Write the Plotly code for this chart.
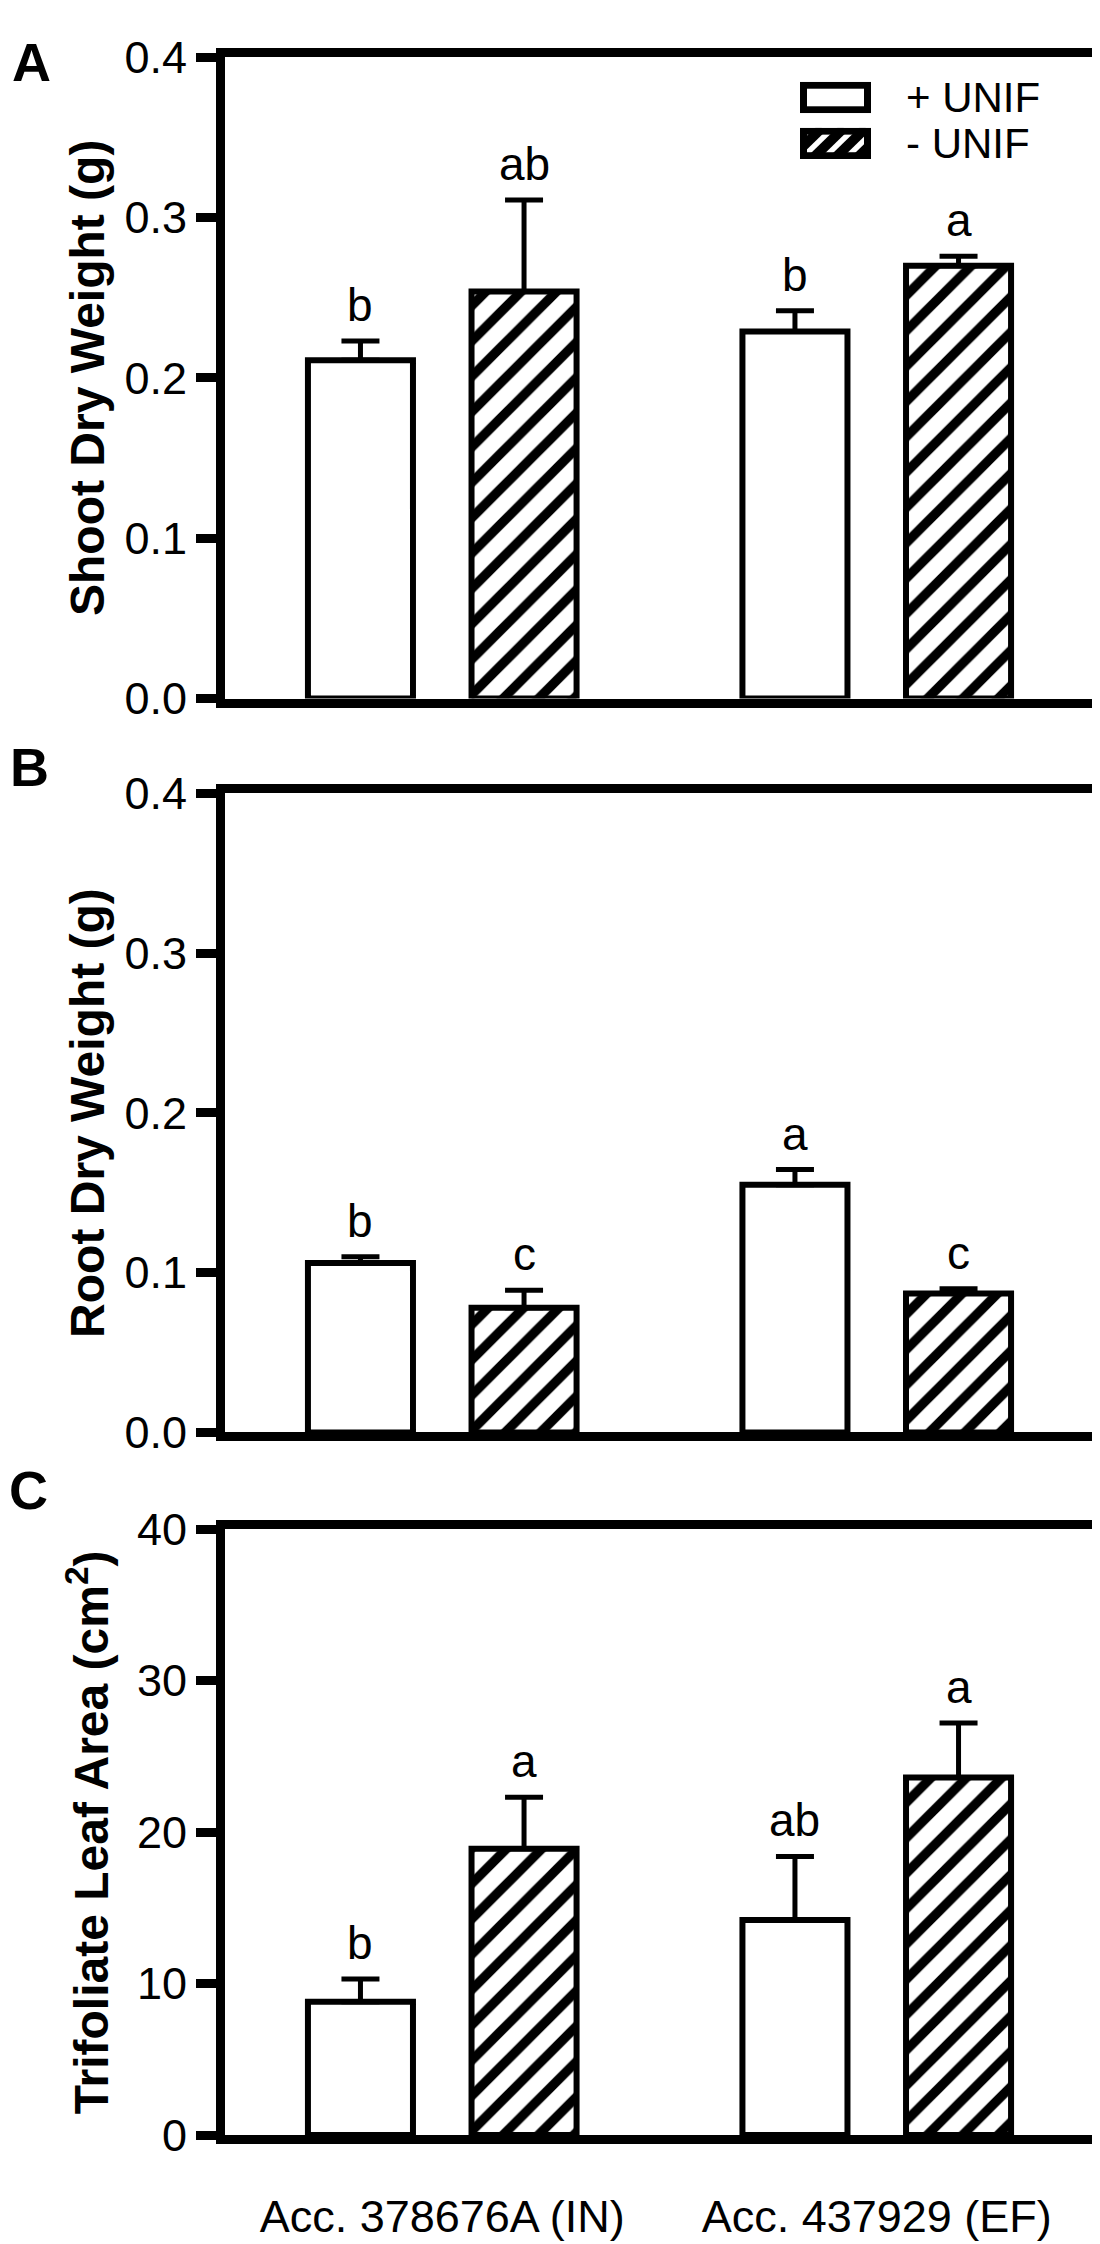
import base64
import plotly.graph_objects as go

# =========================
# DATA
# =========================

accessions = ["Acc. 378676A (IN)", "Acc. 437929 (EF)"]
treatments = ["+ UNIF", "- UNIF"]

shoot_plus = [0.211, 0.229]
shoot_plus_err = [0.012, 0.013]
shoot_minus = [0.254, 0.270]
shoot_minus_err = [0.057, 0.006]
shoot_plus_letters = ["b", "b"]
shoot_minus_letters = ["ab", "a"]

root_plus = [0.106, 0.155]
root_plus_err = [0.004, 0.0095]
root_minus = [0.078, 0.087]
root_minus_err = [0.011, 0.003]
root_plus_letters = ["b", "a"]
root_minus_letters = ["c", "c"]

leaf_plus = [8.8, 14.2]
leaf_plus_err = [1.5, 4.2]
leaf_minus = [18.9, 23.6]
leaf_minus_err = [3.4, 3.6]
leaf_plus_letters = ["b", "ab"]
leaf_minus_letters = ["a", "a"]

panel_titles = [
    "<b>Shoot Dry Weight (g)</b>",
    "<b>Root Dry Weight (g)</b>",
    "<b>Trifoliate Leaf Area (cm<sup>2</sup>)</b>",
]
panel_letters = ["A", "B", "C"]
y_ticks = [
    [0.0, 0.1, 0.2, 0.3, 0.4],
    [0.0, 0.1, 0.2, 0.3, 0.4],
    [0, 10, 20, 30, 40],
]

# =========================
# LAYOUT HELPERS (pixels)
# =========================

W, H = 1100, 2244
FONT = "Arial, Liberation Sans, sans-serif"
BARGAP = 0.247
GROUPGAP = 0.358
SLOT = (1 - BARGAP) / 2


def px(x):
    return x / W


def py(y):
    return 1 - y / H


x_dom = [px(217), px(1086)]
y_doms = [
    [py(681), py(25)],
    [py(1432), py(778)],
    [py(2151), py(1531)],
]
panel_letter_pos = [(23, 30), (21, 751), (20, 1491)]

panels = [
    (shoot_plus, shoot_plus_err, shoot_minus, shoot_minus_err,
     shoot_plus_letters, shoot_minus_letters),
    (root_plus, root_plus_err, root_minus, root_minus_err,
     root_plus_letters, root_minus_letters),
    (leaf_plus, leaf_plus_err, leaf_minus, leaf_minus_err,
     leaf_plus_letters, leaf_minus_letters),
]

fig = go.Figure()
annotations = []

# =========================
# BARS
# =========================

for k, (p, pe, m, me, pl, ml) in enumerate(panels):
    xa = "x" if k == 0 else f"x{k + 1}"
    ya = "y" if k == 0 else f"y{k + 1}"
    xs = list(range(len(accessions)))

    fig.add_trace(go.Bar(
        x=xs, y=p, name=treatments[0], xaxis=xa, yaxis=ya,
        marker=dict(color="white", line=dict(color="black", width=6)),
        error_y=dict(type="data", array=pe, arrayminus=[0] * len(pe),
                     symmetric=False, color="black", thickness=5, width=19),
        showlegend=False,
    ))
    fig.add_trace(go.Bar(
        x=xs, y=m, name=treatments[1], xaxis=xa, yaxis=ya,
        marker=dict(color="white", line=dict(color="black", width=6),
                    pattern=dict(shape="/", fgcolor="black", bgcolor="white",
                                 fgopacity=1, size=25, solidity=0.38)),
        error_y=dict(type="data", array=me, arrayminus=[0] * len(me),
                     symmetric=False, color="black", thickness=5, width=19),
        showlegend=False,
    ))

    # significance letters
    for i in xs:
        for j, (vals, errs, letters) in enumerate([(p, pe, pl), (m, me, ml)]):
            annotations.append(dict(
                x=i + (j - 0.5) * SLOT, y=vals[i] + errs[i],
                xref=xa, yref=ya, text=letters[i], showarrow=False,
                yanchor="bottom", yshift=8,
                font=dict(family=FONT, size=46, color="black"),
            ))

    # y title
    annotations.append(dict(
        x=px(80), y=0.5, xref="paper", yref=f"{ya} domain",
        text=panel_titles[k], textangle=-90, showarrow=False,
        xanchor="center", yanchor="middle",
        font=dict(family=FONT, size=48, color="black"),
    ))

    # panel letter
    lx, ly = panel_letter_pos[k]
    annotations.append(dict(
        x=px(lx), y=py(ly), xref="paper", yref="paper",
        text=f"<b>{panel_letters[k]}</b>", showarrow=False,
        xanchor="center", yanchor="middle",
        font=dict(family=FONT, size=54, color="black"),
    ))

# =========================
# AXES
# =========================

axis_common = dict(
    showline=True, linecolor="black", linewidth=9, mirror=True,
    showgrid=False, zeroline=False,
)

for k in range(3):
    xkey = "xaxis" if k == 0 else f"xaxis{k + 1}"
    ykey = "yaxis" if k == 0 else f"yaxis{k + 1}"
    ya = "y" if k == 0 else f"y{k + 1}"
    xa = "x" if k == 0 else f"x{k + 1}"
    last = k == 2
    fig.update_layout({
        xkey: dict(
            axis_common, domain=x_dom, anchor=ya, range=[-0.5, 1.5],
            tickvals=[0, 1], ticktext=accessions, showticklabels=last,
            ticks="outside" if last else "", ticklen=34,
            tickcolor="rgba(0,0,0,0)",
            tickfont=dict(family=FONT, size=45, color="black"),
        ),
        ykey: dict(
            axis_common, domain=y_doms[k], anchor=xa,
            range=[y_ticks[k][0], y_ticks[k][-1]],
            tickvals=y_ticks[k],
            tickformat=".1f" if k < 2 else "d",
            ticks="outside", ticklen=20, tickwidth=9, tickcolor="black",
            tickfont=dict(family=FONT, size=45, color="black"),
        ),
    })

# =========================
# LEGEND (drawn by hand)
# =========================

svg_open = (
    '<svg xmlns="http://www.w3.org/2000/svg" width="71" height="32" viewBox="0 0 71 32">'
    '<rect x="3.5" y="3.5" width="64" height="25" fill="white" stroke="black" stroke-width="7"/>'
    '</svg>'
)
hatch_lines = "".join(
    f'<line x1="{x0}" y1="32" x2="{x0 + 32}" y2="0"/>' for x0 in range(-32, 80, 22)
)
svg_hatch = (
    '<svg xmlns="http://www.w3.org/2000/svg" width="71" height="32" viewBox="0 0 71 32">'
    '<defs><clipPath id="c"><rect x="0" y="0" width="71" height="32"/></clipPath></defs>'
    '<rect x="0" y="0" width="71" height="32" fill="white"/>'
    f'<g clip-path="url(#c)" stroke="black" stroke-width="10">{hatch_lines}</g>'
    '<rect x="3.5" y="3.5" width="64" height="25" fill="none" stroke="black" stroke-width="7"/>'
    '</svg>'
)


def svg_uri(svg):
    return "data:image/svg+xml;base64," + base64.b64encode(svg.encode()).decode()


images = []
for idx, (svg, top) in enumerate([(svg_open, 50), (svg_hatch, 97)]):
    images.append(dict(
        source=svg_uri(svg), xref="paper", yref="paper",
        x=px(792), y=py(top), sizex=71 / W, sizey=32 / H,
        xanchor="left", yanchor="top", sizing="stretch", layer="above",
    ))
    annotations.append(dict(
        x=px(896), y=py(top + 16), xref="paper", yref="paper",
        text=treatments[idx], showarrow=False,
        xanchor="left", yanchor="middle",
        font=dict(family=FONT, size=42, color="black"),
    ))

fig.update_layout(
    width=W, height=H,
    margin=dict(l=0, r=0, t=0, b=0),
    barmode="group", bargap=BARGAP, bargroupgap=GROUPGAP,
    plot_bgcolor="white", paper_bgcolor="white",
    showlegend=False,
    annotations=annotations,
    images=images,
)

fig.write_html("out.html")
